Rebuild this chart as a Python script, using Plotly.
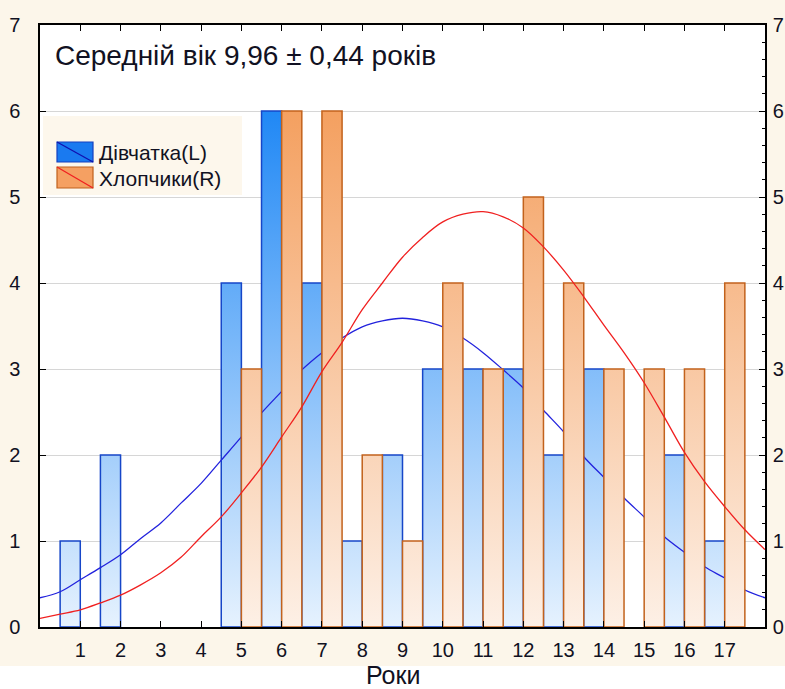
import plotly.graph_objects as go

# Age groups (years) and counts per group
ages = list(range(1, 18))
girls = [1, 2, 0, 0, 4, 6, 4, 1, 2, 3, 3, 3, 2, 3, 0, 2, 1]
boys = [0, 0, 0, 0, 3, 6, 6, 2, 1, 4, 3, 5, 4, 3, 3, 3, 4]

# Fitted normal curves, sampled every half year
curve_x = [i * 0.5 for i in range(37)]
girls_curve = [0.34, 0.41, 0.55, 0.69, 0.84, 1.03, 1.21, 1.44, 1.67, 1.94,
               2.21, 2.49, 2.74, 2.99, 3.19, 3.36, 3.49, 3.56, 3.59, 3.56,
               3.49, 3.36, 3.19, 2.99, 2.78, 2.52, 2.27, 1.98, 1.74, 1.50,
               1.28, 1.05, 0.87, 0.70, 0.57, 0.43, 0.34]
boys_curve = [0.10, 0.15, 0.20, 0.28, 0.37, 0.49, 0.63, 0.81, 1.05, 1.28,
              1.56, 1.86, 2.21, 2.56, 2.97, 3.31, 3.69, 4.00, 4.30, 4.53,
              4.71, 4.80, 4.83, 4.77, 4.64, 4.42, 4.15, 3.84, 3.51, 3.19,
              2.84, 2.44, 2.03, 1.69, 1.40, 1.13, 0.90]

title_text = "Середній вік 9,96 ± 0,44 років"
x_title = "Роки"
legend_labels = ["Дівчатка(L)", "Хлопчики(R)"]

W, H = 785, 689
ML, MR, MT, MB = 40, 20, 25, 62
FONT = "Liberation Sans, Arial, sans-serif"
TXT = "#111122"


def px(x, y):
    """Pixel position -> paper coordinates."""
    return (x - ML) / (W - ML - MR), (H - MB - y) / (H - MT - MB)


def bar_path(cats, vals, lo, hi):
    xs, ys = [], []
    for c, v in zip(cats, vals):
        if v <= 0:
            continue
        xs += [c + lo, c + lo, c + hi, c + hi, c + lo, None]
        ys += [0, v, v, 0, 0, None]
    return xs, ys


gx, gy = bar_path(ages, girls, -0.5, 0.0)
bx, by = bar_path(ages, boys, 0.0, 0.5)

fig = go.Figure()

fig.add_trace(go.Scatter(
    x=gx, y=gy, mode="lines", fill="toself",
    line=dict(color="#1646c8", width=1.5),
    fillgradient=dict(type="vertical", start=0, stop=6,
                      colorscale=[[0, "#e6f2fe"], [1, "#2088f5"]]),
    hoverinfo="skip", showlegend=False, yaxis="y"))

fig.add_trace(go.Scatter(
    x=curve_x, y=girls_curve, mode="lines",
    line=dict(color="#2222dd", width=1.3, shape="spline"),
    hoverinfo="skip", showlegend=False, yaxis="y"))

fig.add_trace(go.Scatter(
    x=bx, y=by, mode="lines", fill="toself",
    line=dict(color="#c2621c", width=1.5),
    fillgradient=dict(type="vertical", start=0, stop=6,
                      colorscale=[[0, "#fdf0e6"], [1, "#f4a060"]]),
    hoverinfo="skip", showlegend=False, yaxis="y2"))

fig.add_trace(go.Scatter(
    x=curve_x, y=boys_curve, mode="lines",
    line=dict(color="#f02020", width=1.3, shape="spline"),
    hoverinfo="skip", showlegend=False, yaxis="y2"))

shapes = []
# white strip behind the axis title
s0 = px(0, 666)
s1 = px(W, H)
shapes.append(dict(type="rect", xref="paper", yref="paper", x0=s0[0], y0=s1[1],
                   x1=s1[0], y1=s0[1], fillcolor="white", line=dict(width=0),
                   layer="below"))

# Legend box drawn by hand (swatch with a diagonal line through it)
x0, y0 = px(43, 116)
x1, y1 = px(242, 195)
shapes.append(dict(type="rect", xref="paper", yref="paper", x0=x0, y0=y0, x1=x1, y1=y1,
                   fillcolor="#fdf7ec", line=dict(width=0), layer="below"))
swatches = [((57, 142, 93, 162), "#1a7af0", "#1440c0", "#1010b0"),
            ((57, 167, 93, 188), "#f5a062", "#c0601c", "#f02020")]
for (ax0, ay0, ax1, ay1), fill, edge, diag in swatches:
    p0 = px(ax0, ay0)
    p1 = px(ax1, ay1)
    shapes.append(dict(type="rect", xref="paper", yref="paper",
                       x0=p0[0], y0=p1[1], x1=p1[0], y1=p0[1],
                       fillcolor=fill, line=dict(color=edge, width=1.2)))
    shapes.append(dict(type="line", xref="paper", yref="paper",
                       x0=p0[0], y0=p0[1], x1=p1[0], y1=p1[1],
                       line=dict(color=diag, width=1.3)))

annotations = []
for label, yy in zip(legend_labels, [152, 178]):
    ax, ay = px(97, yy)
    annotations.append(dict(text=label, xref="paper", yref="paper", x=ax, y=ay,
                            xanchor="left", yanchor="middle", showarrow=False,
                            font=dict(family=FONT, size=21, color=TXT)))
tx, ty = px(53, 55)
annotations.append(dict(text=title_text, xref="paper", yref="paper", x=tx, y=ty,
                        xanchor="left", yanchor="middle", showarrow=False,
                        font=dict(family=FONT, size=28, color=TXT)))
ttx, tty = px(393, 675)
annotations.append(dict(text=x_title, xref="paper", yref="paper", x=ttx, y=tty,
                        xanchor="center", yanchor="middle", showarrow=False,
                        font=dict(family=FONT, size=25, color=TXT)))

fig.update_layout(
    width=W, height=H,
    margin=dict(l=ML, r=MR, t=MT, b=MB, pad=0),
    paper_bgcolor="#fcf6ea",
    plot_bgcolor="white",
    showlegend=False,
    shapes=shapes,
    annotations=annotations,
    xaxis=dict(range=[0, 18], tickvals=ages, ticktext=[str(a) for a in ages],
               ticks="inside", ticklen=6, tickcolor="black", tickwidth=1.2,
               showline=True, linecolor="black", linewidth=1.5, mirror="ticks",
               showgrid=False, zeroline=False, ticklabelstandoff=4,
               automargin=False,
               tickfont=dict(family=FONT, size=20, color=TXT)),
    yaxis=dict(range=[0, 7], dtick=1, ticks="inside", ticklen=6, tickcolor="black",
               showline=True, linecolor="black", linewidth=1.5,
               showgrid=True, gridcolor="#d6d6d6", gridwidth=1.2, zeroline=False,
               ticklabelstandoff=14, automargin=False,
               tickfont=dict(family=FONT, size=20, color=TXT)),
    yaxis2=dict(range=[0, 7], dtick=1, overlaying="y", side="right",
                ticks="inside", ticklen=6, tickcolor="black",
                minor=dict(ticks="inside", ticklen=3, dtick=0.2, tickcolor="black"),
                showline=True, linecolor="black", linewidth=1.5,
                showgrid=False, zeroline=False, ticklabelstandoff=2,
                automargin=False,
                tickfont=dict(family=FONT, size=20, color=TXT)),
)

fig.write_html("out.html")
